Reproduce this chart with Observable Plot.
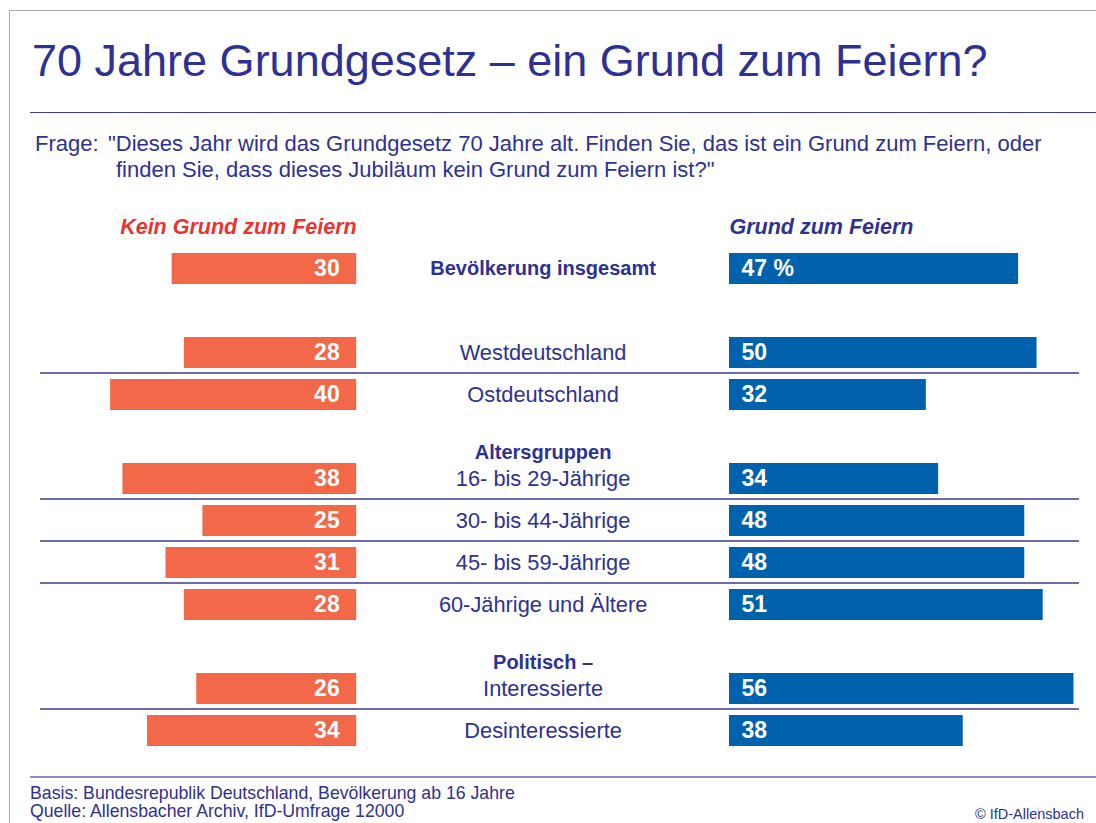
<!DOCTYPE html>
<html>
<head>
<meta charset="utf-8">
<script src="https://cdn.jsdelivr.net/npm/d3@7"></script>
<script src="https://cdn.jsdelivr.net/npm/@observablehq/plot@0.6"></script>
<style>
  html, body { margin: 0; padding: 0; background: #fff; }
  body { width: 1096px; height: 823px; position: relative; overflow: hidden;
         font-family: "Liberation Sans", Arial, sans-serif; color: #2E3192; }
  #frame { position: absolute; left: 9px; top: 10px; right: 0; bottom: 0;
           border-top: 1.5px solid #a8a8a8; border-left: 1.5px solid #a8a8a8; }
  #title { position: absolute; left: 32px; top: 38px; font-size: 45px; line-height: 1;
           white-space: nowrap; color: #2E3192; }
  #titleRule { position: absolute; left: 30px; right: 0; top: 112px; border-top: 1.5px solid #3b3b92; }
  #frageLbl { position: absolute; left: 35px; top: 131px; font-size: 22px; line-height: 26px; }
  #frage { position: absolute; left: 116px; top: 131px; font-size: 22px; line-height: 26px;
           white-space: nowrap; }
  #frage div:first-child { margin-left: -8px; }
  #chart { position: absolute; left: 0; top: 190px; }
  #footRule { position: absolute; left: 30px; right: 0; top: 776px; border-top: 2px solid #8c8cc0; }
  #foot { position: absolute; left: 30px; top: 784px; font-size: 17.7px; line-height: 18px; }
  #copy { position: absolute; right: 12px; top: 806px; font-size: 14.5px; line-height: 16px; }
</style>
</head>
<body>
<div id="frame"></div>
<div id="title"></div>
<div id="titleRule"></div>
<div id="frageLbl"></div>
<div id="frage"></div>
<div id="chart"></div>
<div id="footRule"></div>
<div id="foot"></div>
<div id="copy"></div>
<script>
// ---------- data ----------
const titleText = "70 Jahre Grundgesetz – ein Grund zum Feiern?";
const frageLabel = "Frage:";
const frageLines = [
  "\"Dieses Jahr wird das Grundgesetz 70 Jahre alt. Finden Sie, das ist ein Grund zum Feiern, oder",
  "finden Sie, dass dieses Jubiläum kein Grund zum Feiern ist?\""
];
const headerLeft = "Kein Grund zum Feiern";
const headerRight = "Grund zum Feiern";
const rows = ["Bevölkerung insgesamt", "Westdeutschland", "Ostdeutschland",
  "16- bis 29-Jährige", "30- bis 44-Jährige", "45- bis 59-Jährige", "60-Jährige und Ältere",
  "Interessierte", "Desinteressierte"];
const keinGrund = [30, 28, 40, 38, 25, 31, 28, 26, 34];
const grund = [47, 50, 32, 34, 48, 48, 51, 56, 38];
const groupHeaders = ["Altersgruppen", "Politisch –"];
const separatorsBefore = ["Ostdeutschland", "30- bis 44-Jährige", "45- bis 59-Jährige", "60-Jährige und Ältere", "Desinteressierte"];
const footLines = ["Basis: Bundesrepublik Deutschland, Bevölkerung ab 16 Jahre", "Quelle: Allensbacher Archiv, IfD-Umfrage 12000"];
const copyright = "© IfD-Allensbach";

// ---------- colours ----------
const navy = "#2E3192", orange = "#F26849", blue = "#0061AD", red = "#E8342E";

document.getElementById("title").textContent = titleText;
document.getElementById("frageLbl").textContent = frageLabel;
const frageEl = document.getElementById("frage");
frageLines.forEach(t => { const d = document.createElement("div"); d.textContent = t; frageEl.appendChild(d); });
const footEl = document.getElementById("foot");
footLines.forEach(t => { const d = document.createElement("div"); d.textContent = t; footEl.appendChild(d); });
document.getElementById("copy").textContent = copyright;

const data = rows.map((r, i) => ({row: r, kein: keinGrund[i], grund: grund[i], total: i === 0}));

// y slots: header row, total, blank, regions, age header, ages, politics header, politics
const slots = ["__head", rows[0], "__gap", rows[1], rows[2], groupHeaders[0],
  rows[3], rows[4], rows[5], rows[6], groupHeaders[1], rows[7], rows[8]];

const gap = 60.6; // central label column, in percentage units

const chart = Plot.plot({
  width: 1096,
  height: 580,
  marginTop: 7.3,
  marginBottom: 10.7,
  marginLeft: 40,
  marginRight: 17,
  x: {domain: [-81.7, 87.2], axis: null},
  y: {type: "band", domain: slots, padding: 0.268, axis: null},
  style: {fontFamily: "Liberation Sans, Arial, sans-serif", background: "transparent"},
  marks: [
    Plot.ruleY(separatorsBefore, {y: d => d, dy: -22, stroke: "#3b3b92", strokeWidth: 1.3}),
    Plot.barX(data, {y: "row", x1: d => -gap / 2 - d.kein, x2: -gap / 2, fill: orange}),
    Plot.barX(data, {y: "row", x1: gap / 2, x2: d => gap / 2 + d.grund, fill: blue}),
    Plot.text(data, {y: "row", x: -gap / 2, text: d => String(d.kein), textAnchor: "end", dx: -17,
      fill: "white", fontWeight: "bold", fontSize: 23}),
    Plot.text(data, {y: "row", x: gap / 2, text: d => d.total ? d.grund + " %" : String(d.grund),
      textAnchor: "start", dx: 12, fill: "white", fontWeight: "bold", fontSize: 23}),
    Plot.text(data.filter(d => d.total), {y: "row", x: 0, text: "row", fill: navy, fontWeight: "bold", fontSize: 20}),
    Plot.text(data.filter(d => !d.total), {y: "row", x: 0, text: "row", fill: navy, fontSize: 21.8}),
    Plot.text(groupHeaders, {y: d => d, x: 0, text: d => d, dy: 15.5, fill: navy, fontWeight: "bold", fontSize: 20}),
    Plot.text([headerLeft], {y: () => "__head", x: -gap / 2, text: d => d, textAnchor: "end",
      fill: red, fontWeight: "bold", fontStyle: "italic", fontSize: 21.5}),
    Plot.text([headerRight], {y: () => "__head", x: gap / 2, text: d => d, textAnchor: "start",
      fill: navy, fontWeight: "bold", fontStyle: "italic", fontSize: 21.5})
  ]
});
document.getElementById("chart").appendChild(chart);
</script>
</body>
</html>
